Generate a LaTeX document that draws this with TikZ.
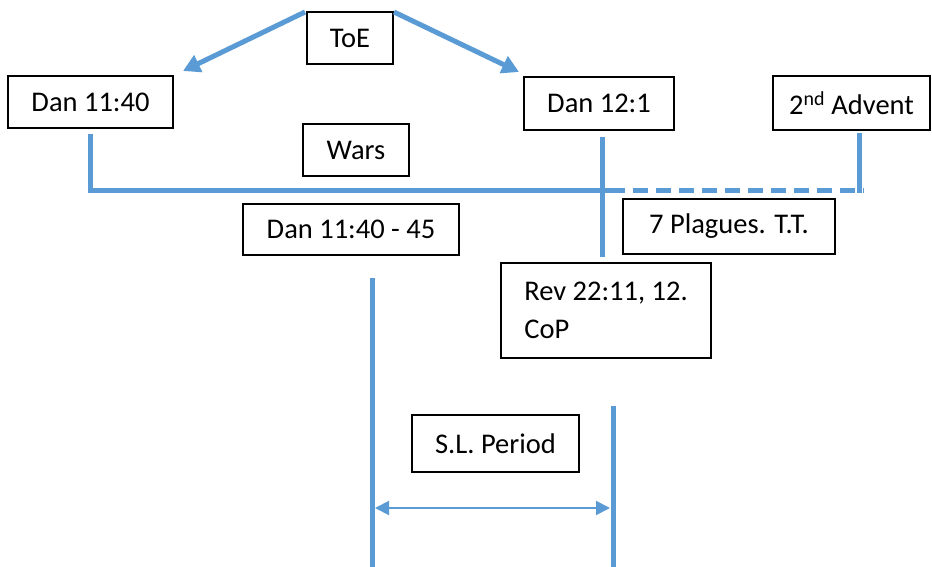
\documentclass[tikz,border=0pt]{standalone}
\usepackage{fontspec}
\setmainfont{Carlito}
\usepackage{xcolor}
\usepackage{tikz}
\usetikzlibrary{arrows.meta,positioning}
\definecolor{lineblue}{HTML}{5B9BD5}

\tikzset{
  box/.style={draw=black, line width=2pt, inner sep=0pt, font=\fontsize{28.5}{38}\selectfont},
  bar/.style={draw=lineblue, line width=5pt},
  dashbar/.style={bar, dash pattern=on 15pt off 8pt},
  bigarrow/.style={bar, -{Triangle[length=17pt,width=18pt]}},
  spanarrow/.style={draw=lineblue, line width=2pt, {Triangle[length=14pt,width=14pt]}-{Triangle[length=14pt,width=14pt]}},
}

\begin{document}
\begin{tikzpicture}[x=1pt,y=-1pt]
        \useasboundingbox (0,0) rectangle (932,567);

        \node[box, minimum width=86, minimum height=52] (toe) at (350,38) {ToE};
        \node[box, minimum width=165, minimum height=52] (dana) at (90.5,102) {Dan 11:40};
        \node[box, minimum width=150, minimum height=53] (danb) at (599,103.5) {Dan 12:1};
        \node[box, minimum width=157, minimum height=54] (advent) at (851.5,103) {2\textsuperscript{nd} Advent};
        \node[box, minimum width=106, minimum height=52] (wars) at (356,150) {Wars};
        \node[box, minimum width=216, minimum height=51] (range) at (351,229.5) {Dan 11:40 - 45};
        \node[box, minimum width=212, minimum height=55] (plagues) at (729,226.5) {7 Plagues. T.T.};
        \node[box, minimum width=210, minimum height=95, align=left] (rev) at (606,310.5) {Rev 22:11, 12.\\CoP};
        \node[box, minimum width=167, minimum height=57] (period) at (495.5,443.5) {S.L. Period};

        % line ends
        \coordinate (join) at (610,190);
        \coordinate (dashend) at (864,190);
        \coordinate (advtop) at (859,133);
        \coordinate (advfoot) at (859,193);
        \coordinate (dantop) at (602,137);
        \coordinate (danfoot) at (602,257);
        \coordinate (slatop) at (372,278);
        \coordinate (slafoot) at (372,567);
        \coordinate (slbtop) at (613,406);
        \coordinate (slbfoot) at (613,567);

        \draw[bigarrow] ([shift={(-1pt,-1pt)}]toe.north west) -- ([shift={(9pt,4pt)}]dana.north east);
        \draw[bigarrow] ([shift={(0pt,-1pt)}]toe.north east) -- ([shift={(-4pt,4pt)}]danb.north west);

        \draw[bar] ([yshift=-5pt]dana.south) |- (join);
        \draw[dashbar] (join) -- (dashend);
        \draw[bar] (advtop) -- (advfoot);
        \draw[bar] (dantop) -- (danfoot);

        \draw[bar] (slatop) -- (slafoot);
        \draw[bar] (slbtop) -- (slbfoot);
        \draw[spanarrow] ([shift={(3pt,0pt)}]slatop |- 0,508) -- ([shift={(-3pt,0pt)}]slbtop |- 0,508);
    \end{tikzpicture}
\end{document}
